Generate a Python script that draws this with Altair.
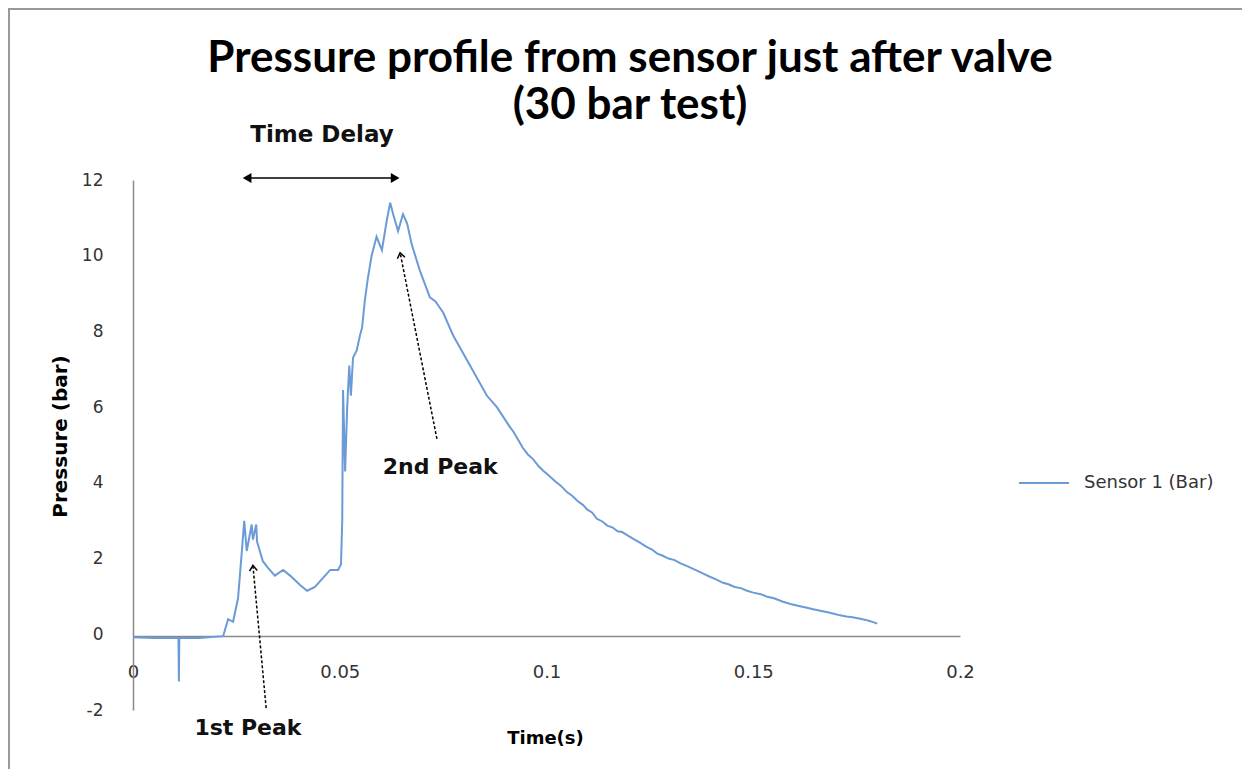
import altair as alt
import pandas as pd

# ---- data ----
time_s = [0.0, 0.0050, 0.0100, 0.0110, 0.0111, 0.0112, 0.0160, 0.0218,
          0.0230, 0.0242, 0.0254, 0.0264, 0.0269, 0.0275, 0.0287, 0.0290,
          0.0298, 0.0300, 0.0314, 0.0327, 0.0343, 0.0363, 0.0380, 0.0404,
          0.0421, 0.0440, 0.0452, 0.0477, 0.0496, 0.0503, 0.0506, 0.0508,
          0.0513, 0.0518, 0.0523, 0.0527, 0.0532, 0.0541, 0.0549, 0.0554,
          0.0561, 0.0568, 0.0577, 0.0589, 0.0602, 0.0614, 0.0622, 0.0629,
          0.0641, 0.0653, 0.0663, 0.0674, 0.0694, 0.0718, 0.0731, 0.0750,
          0.0774, 0.0815, 0.0856, 0.0880, 0.0895, 0.0910, 0.0920, 0.0936,
          0.0943, 0.0955, 0.0968, 0.0980, 0.0992, 0.1005, 0.1020, 0.1035,
          0.1050, 0.1062, 0.1075, 0.1088, 0.1098, 0.1110, 0.1122, 0.1135,
          0.1147, 0.1160, 0.1172, 0.1183, 0.1195, 0.1210, 0.1226, 0.1240,
          0.1255, 0.1268, 0.1280, 0.1295, 0.1310, 0.1323, 0.1340, 0.1352,
          0.1364, 0.1379, 0.1395, 0.1410, 0.1427, 0.1440, 0.1455, 0.1470,
          0.1485, 0.1500, 0.1518, 0.1534, 0.1550, 0.1572, 0.1590, 0.1613,
          0.1630, 0.1645, 0.1662, 0.1680, 0.1695, 0.1710, 0.1725, 0.1740,
          0.1759, 0.1772, 0.1785, 0.1800]
pressure_bar = [-0.08, -0.10, -0.09, -0.10, -1.25, -0.10, -0.10, -0.05,
                0.40, 0.33, 0.95, 2.30, 3.00, 2.20, 2.90, 2.50,
                2.90, 2.45, 1.93, 1.75, 1.55, 1.70, 1.55, 1.30,
                1.15, 1.25, 1.40, 1.70, 1.70, 1.85, 3.00, 6.45,
                4.30, 6.00, 7.10, 6.30, 7.30, 7.50, 7.90, 8.10,
                8.85, 9.40, 10.00, 10.50, 10.15, 10.95, 11.40, 11.10,
                10.65, 11.10, 10.85, 10.30, 9.60, 8.90, 8.80, 8.50,
                7.90, 7.10, 6.30, 6.00, 5.75, 5.50, 5.35, 5.05,
                4.92, 4.75, 4.62, 4.45, 4.32, 4.20, 4.05, 3.92,
                3.75, 3.66, 3.52, 3.42, 3.30, 3.22, 3.05, 2.98,
                2.87, 2.82, 2.72, 2.70, 2.62, 2.52, 2.42, 2.32,
                2.24, 2.13, 2.08, 2.00, 1.96, 1.88, 1.80, 1.74,
                1.68, 1.60, 1.52, 1.45, 1.36, 1.32, 1.25, 1.22,
                1.15, 1.10, 1.06, 0.99, 0.95, 0.86, 0.80, 0.74,
                0.70, 0.66, 0.62, 0.58, 0.54, 0.50, 0.47, 0.45,
                0.41, 0.38, 0.34, 0.28]
series_name = "Sensor 1 (Bar)"

x_ticks = [0, 0.05, 0.1, 0.15, 0.2]
y_ticks = [-2, 0, 2, 4, 6, 8, 10, 12]

# annotations (data coordinates)
peak_labels = ["1st Peak", "2nd Peak"]
peak_label_t = [0.0278, 0.0743]
peak_label_p = [-2.47, 4.42]
arrow_t_from = [0.0322, 0.0735]
arrow_p_from = [-1.95, 5.16]
arrow_t_to = [0.0290, 0.0646]
arrow_p_to = [1.82, 10.08]
arrow_angle = [355, 349]

delay_label = "Time Delay"
delay_t = [0.0276, 0.0634]
delay_p = 12.05
delay_label_t = 0.0457
delay_label_p = 13.18

title_lines = ["Pressure profile from sensor just after valve", "(30 bar test)"]

# ---- tables ----
df = pd.DataFrame({"t": time_s, "p": pressure_bar, "series": series_name})
peaks = pd.DataFrame({"label": peak_labels, "t": peak_label_t, "p": peak_label_p,
                      "t0": arrow_t_from, "p0": arrow_p_from,
                      "t1": arrow_t_to, "p1": arrow_p_to, "ang": arrow_angle})
delay_line = pd.DataFrame({"t0": [delay_t[0]], "t1": [delay_t[1]], "p": [delay_p]})
delay_heads = pd.DataFrame({"t": delay_t, "p": [delay_p, delay_p],
                            "shape": ["triangle-left", "triangle-right"]})
delay_text = pd.DataFrame({"label": [delay_label], "t": [delay_label_t], "p": [delay_label_p]})
title_df = pd.DataFrame({"line": title_lines, "y": [-121, -74]})
frame_df = pd.DataFrame({"k": [0]})

xscale = alt.Scale(domain=[0, 0.2], nice=False, zero=False)
yscale = alt.Scale(domain=[-2, 12], nice=False, zero=False)

line = alt.Chart(df).mark_line(strokeWidth=2, clip=True).encode(
    x=alt.X("t:Q", scale=xscale,
            axis=alt.Axis(values=x_ticks, labelExpr="toString(datum.value)",
                          title="Time(s)", grid=False,
                          offset=-74, tickSize=0, labelPadding=27, labelFlush=False,
                          labelFont="DejaVu Sans", labelFontSize=18, labelColor="#333333",
                          domainColor="#8a8a8a", domainWidth=1.5,
                          titleFont="DejaVu Sans", titleFontSize=18, titleFontWeight="bold",
                          titleColor="black", titleX=412, titleY=102,
                          titleBaseline="middle", titleAlign="center")),
    y=alt.Y("p:Q", scale=yscale,
            axis=alt.Axis(values=y_ticks, labelExpr="toString(datum.value)",
                          title="Pressure (bar)", grid=False,
                          tickSize=0, labelPadding=30, labelFlush=False,
                          labelFont="DejaVu Sans", labelFontSize=17, labelColor="#333333",
                          domainColor="#8a8a8a", domainWidth=1.5,
                          titleFont="DejaVu Sans", titleFontSize=20, titleFontWeight="bold",
                          titleColor="black", titleX=-73, titleY=256,
                          titleBaseline="middle", titleAlign="center", titleAngle=270)),
    color=alt.Color("series:N", scale=alt.Scale(range=["#6a9bd6"]),
                    legend=alt.Legend(title=None, orient="none", legendX=885, legendY=277,
                                      symbolType="stroke", symbolSize=2500,
                                      symbolStrokeWidth=2,
                                      labelFont="DejaVu Sans", labelFontSize=18,
                                      labelColor="#333333", labelOffset=14)),
)

peak_arrows = alt.Chart(peaks).mark_rule(color="black", strokeWidth=1.5,
                                         strokeDash=[3, 2]).encode(
    x="t0:Q", y="p0:Q", x2="t1:Q", y2="p1:Q")
peak_heads = alt.Chart(peaks).mark_point(
    shape="M-0.7,1L0,0L0.7,1", filled=False, color="black", strokeWidth=1.5,
    size=120, opacity=1).encode(
    x="t1:Q", y="p1:Q", angle=alt.Angle("ang:Q", scale=None))
peak_text = alt.Chart(peaks).mark_text(font="DejaVu Sans", fontSize=22, fontWeight="bold",
                                       color="#111111").encode(
    x="t:Q", y="p:Q", text="label:N")

delay_rule = alt.Chart(delay_line).mark_rule(color="black", strokeWidth=1.5).encode(
    x="t0:Q", x2="t1:Q", y="p:Q")
delay_tri = alt.Chart(delay_heads).mark_point(filled=True, color="black", size=100,
                                              opacity=1).encode(
    x="t:Q", y="p:Q", shape=alt.Shape("shape:N", scale=None))
delay_txt = alt.Chart(delay_text).mark_text(font="DejaVu Sans", fontSize=23, fontWeight="bold",
                                            color="#111111").encode(
    x="t:Q", y="p:Q", text="label:N")

title_txt = alt.Chart(title_df).mark_text(font="Lato", fontSize=44, fontWeight="bold",
                                          color="black", baseline="middle").encode(
    x=alt.value(497), y=alt.Y("y:Q", scale=None, axis=None),
    text="line:N")

# outer chart-area border (top and left edges, as in the picture)
frame_top = alt.Chart(frame_df).mark_rule(color="#999999", strokeWidth=2).encode(
    x=alt.value(-125), x2=alt.value(1109), y=alt.value(-171))
frame_left = alt.Chart(frame_df).mark_rule(color="#999999", strokeWidth=2).encode(
    x=alt.value(-124), y=alt.value(-172), y2=alt.value(589))

chart = alt.layer(line, peak_arrows, peak_heads, peak_text,
                  delay_rule, delay_tri, delay_txt, title_txt,
                  frame_top, frame_left).properties(
    width=827, height=530,
    autosize=alt.AutoSizeParams(type="none"),
    padding={"left": 125, "top": 172, "right": 282, "bottom": 59},
    background="white",
).configure_view(stroke=None)

chart.save("out.html", embed_options={"renderer": "svg", "actions": False})
